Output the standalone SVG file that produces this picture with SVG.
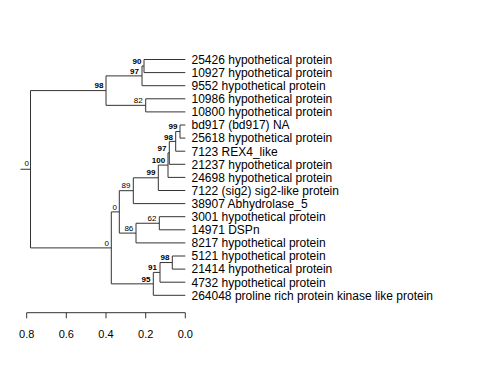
<svg xmlns="http://www.w3.org/2000/svg" width="480" height="384" viewBox="0 0 480 384">
<style>
.e{fill:none;stroke:#333;stroke-width:1}
.lf{font-family:"Liberation Sans",Arial,sans-serif;font-size:12px;fill:#000}
.bs{font-family:"Liberation Sans",Arial,sans-serif;font-size:8px;fill:#000;text-anchor:end}
.b{font-weight:bold}
.ax{font-family:"Liberation Sans",Arial,sans-serif;font-size:11px;fill:#000;text-anchor:middle}
</style>
<rect width="480" height="384" fill="#fff"/>
<g id="connectors" class="e">
<path d="M20.5 169.25H30.5M30.5 90.6V247.9M30.5 90.6H106M30.5 247.9H111.3"/>
<path d="M106 75.9V105.35M106 75.9H142M106 105.35H145.7"/>
<path d="M142 66.05V85.7M142 66.05H144M142 85.7H185.3"/>
<path d="M144 59.5V72.6M144 59.5H185.3M144 72.6H185.3"/>
<path d="M145.7 98.8V111.9M145.7 98.8H185.3M145.7 111.9H185.3"/>
<path d="M111.3 211.9V283.85M111.3 211.9H119.3M111.3 283.85H153.3"/>
<path d="M119.3 190.7V233.1M119.3 190.7H133.3M119.3 233.1H136"/>
<path d="M133.3 177.8V203.6M133.3 177.8H158.3M133.3 203.6H185.3"/>
<path d="M158.3 165.1V190.5M158.3 165.1H168M158.3 190.5H185.3"/>
<path d="M168 152.85V177.4M168 152.85H169.3M168 177.4H185.3"/>
<path d="M169.3 141.4V164.3M169.3 141.4H175.7M169.3 164.3H185.3"/>
<path d="M175.7 131.55V151.2M175.7 131.55H180M175.7 151.2H185.3"/>
<path d="M180 125V138.1M180 125H185.3M180 138.1H185.3"/>
<path d="M136 223.25V242.9M136 223.25H159.3M136 242.9H185.3"/>
<path d="M159.3 216.7V229.8M159.3 216.7H185.3M159.3 229.8H185.3"/>
<path d="M153.3 272.4V295.3M153.3 272.4H160M153.3 295.3H185.3"/>
<path d="M160 262.55V282.2M160 262.55H172.3M160 282.2H185.3"/>
<path d="M172.3 256V269.1M172.3 256H185.3M172.3 269.1H185.3"/>
</g>
<g id="support">
<text class="bs" x="29" y="166">0</text>
<text class="bs b" x="103.5" y="88">98</text>
<text class="bs b" x="139" y="73.5">97</text>
<text class="bs b" x="141.5" y="63.5">90</text>
<text class="bs" x="142.7" y="103">82</text>
<text class="bs" x="109" y="245.5">0</text>
<text class="bs" x="117" y="209.5">0</text>
<text class="bs" x="130.5" y="188">89</text>
<text class="bs b" x="155.5" y="175">99</text>
<text class="bs b" x="165.2" y="162.5">100</text>
<text class="bs b" x="166.5" y="150.5">97</text>
<text class="bs b" x="173" y="139.5">98</text>
<text class="bs b" x="177.5" y="129">99</text>
<text class="bs" x="133.3" y="231">86</text>
<text class="bs" x="156.5" y="221">62</text>
<text class="bs b" x="150.5" y="281.5">95</text>
<text class="bs b" x="157" y="270">91</text>
<text class="bs b" x="169.5" y="260">98</text>
</g>
<g id="leaves">
<text class="lf" x="191.5" y="63.8">25426 hypothetical protein</text>
<text class="lf" x="191.5" y="76.9">10927 hypothetical protein</text>
<text class="lf" x="191.5" y="90">9552 hypothetical protein</text>
<text class="lf" x="191.5" y="103.1">10986 hypothetical protein</text>
<text class="lf" x="191.5" y="116.2">10800 hypothetical protein</text>
<text class="lf" x="191.5" y="129.3">bd917 (bd917) NA</text>
<text class="lf" x="191.5" y="142.4">25618 hypothetical protein</text>
<text class="lf" x="191.5" y="155.5">7123 REX4_like</text>
<text class="lf" x="191.5" y="168.6">21237 hypothetical protein</text>
<text class="lf" x="191.5" y="181.7">24698 hypothetical protein</text>
<text class="lf" x="191.5" y="194.8">7122 (sig2) sig2-like protein</text>
<text class="lf" x="191.5" y="207.9">38907 Abhydrolase_5</text>
<text class="lf" x="191.5" y="221">3001 hypothetical protein</text>
<text class="lf" x="191.5" y="234.1">14971 DSPn</text>
<text class="lf" x="191.5" y="247.2">8217 hypothetical protein</text>
<text class="lf" x="191.5" y="260.3">5121 hypothetical protein</text>
<text class="lf" x="191.5" y="273.4">21414 hypothetical protein</text>
<text class="lf" x="191.5" y="286.5">4732 hypothetical protein</text>
<text class="lf" x="191.5" y="299.6">264048 proline rich protein kinase like protein</text>
</g>
<g id="axis">
<path class="e" d="M26.7 312.7H185.3M26.7 312.7V318.3M66.3 312.7V318.3M106 312.7V318.3M145.7 312.7V318.3M185.3 312.7V318.3"/>
<text class="ax" x="26.7" y="338">0.8</text>
<text class="ax" x="66.3" y="338">0.6</text>
<text class="ax" x="106" y="338">0.4</text>
<text class="ax" x="145.7" y="338">0.2</text>
<text class="ax" x="185.3" y="338">0.0</text>
</g>
</svg>
